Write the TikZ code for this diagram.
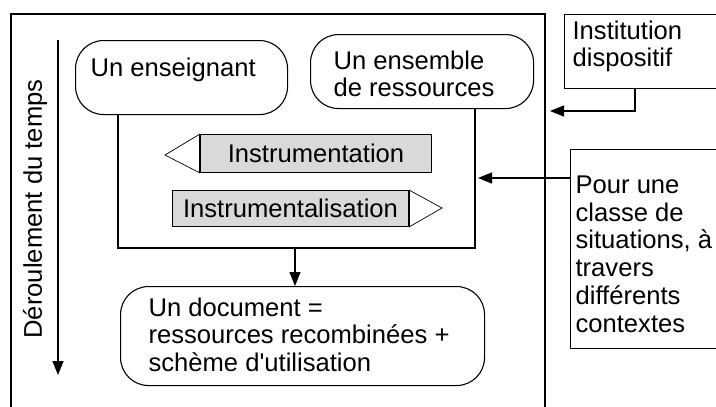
\documentclass[tikz,border=0pt]{standalone}
\usepackage{fontspec}
\setmainfont{Liberation Sans}[Ligatures=TeXOff]
\usetikzlibrary{arrows.meta}
\definecolor{boxgray}{HTML}{D9D9D9}
\begin{document}
\begin{tikzpicture}[x=1pt,y=-1pt,line width=1.2pt,
  every node/.style={font=\fontsize{25.6}{27.8}\selectfont},
  frameline/.style={draw,line width=1.3pt},
  oval/.style={draw,rounded corners=28pt,line width=1.1pt,inner sep=0pt,anchor=north west},
  txt/.style={anchor=north west,inner sep=0pt,align=left},
  plainbox/.style={draw,line width=1.2pt,inner sep=0pt,anchor=north west},
  graybox/.style={draw,fill=boxgray,line width=1pt,inner sep=0pt,anchor=north west},
  tipline/.style={draw,fill=white,line width=0.7pt},
  arr/.style={-{Triangle[length=14pt,width=11pt]},line width=1.2pt}]
\useasboundingbox (0,0) rectangle (716,407);
% main frame (open at the bottom)
\coordinate (fBL) at (11,407);
\coordinate (fTL) at (11,14);
\coordinate (fTR) at (545,14);
\coordinate (fBR) at (545,407);
\draw[frameline] (fBL) -- (fTL) -- (fTR) -- (fBR);
% time arrow
\coordinate (t0) at (58,40);
\coordinate (t1) at (58,375);
\draw[arr] (t0) -- (t1);
\node[rotate=90] (temps) at (35,209) {Déroulement du temps};
% ovals
\node[oval,minimum width=212pt,minimum height=74pt] (ens) at (75,40) {};
\node[txt] (ensT) at (90,57) {Un enseignant};
\node[oval,minimum width=223pt,minimum height=74pt] (res) at (310,34) {};
\node[txt] (resT) at (333,50) {Un ensemble\\de ressources};
\node[oval,minimum width=364pt,minimum height=99pt] (doc) at (120,286) {};
\node[txt] (docT) at (148,297) {Un document =\\ressources recombinées +\\schème d'utilisation};
% inner box
\coordinate (inBL) at (118,248);
\coordinate (inBR) at (475,248);
\coordinate (inB) at (295,248);
\draw (ens.south -| inBL) -- (inBL) -- (inBR) -- (inBR |- res.south);
\draw[arr] (inB) -- (inB |- doc.north);
% instrumentation arrows
\node[graybox,minimum width=231pt,minimum height=38pt] (instr) at (200,134) {Instrumentation};
\coordinate (instrTip) at (165,155);
\draw[tipline] (instr.north west) -- (instrTip) -- (instr.south west);
\draw[line width=2pt] (instr.north west) -- (instr.south west);
\node[graybox,minimum width=236pt,minimum height=36pt] (instl) at (172,190) {Instrumentalisation};
\coordinate (instlTip) at (442,208);
\draw[tipline] (instl.north east) -- (instlTip) -- (instl.south east);
\draw[line width=2pt] (instl.north east) -- (instl.south east);
% right boxes
\node[plainbox,minimum width=160pt,minimum height=74pt] (inst) at (564,14) {};
\node[txt] (instT) at (572,20) {Institution\\dispositif};
\coordinate (ic) at (635,111);
\coordinate (icTip) at (550,111);
\draw[arr] (inst.south -| ic) -- (ic) -- (icTip);
\node[plainbox,minimum width=155pt,minimum height=199pt] (pour) at (570,149) {};
\node[txt] (pourT) at (575,175) {Pour une\\classe de\\situations, à\\travers\\différents\\contextes};
\coordinate (pTip) at (478,178);
\draw[arr] (pTip -| pour.west) -- (pTip);
\end{tikzpicture}
\end{document}
